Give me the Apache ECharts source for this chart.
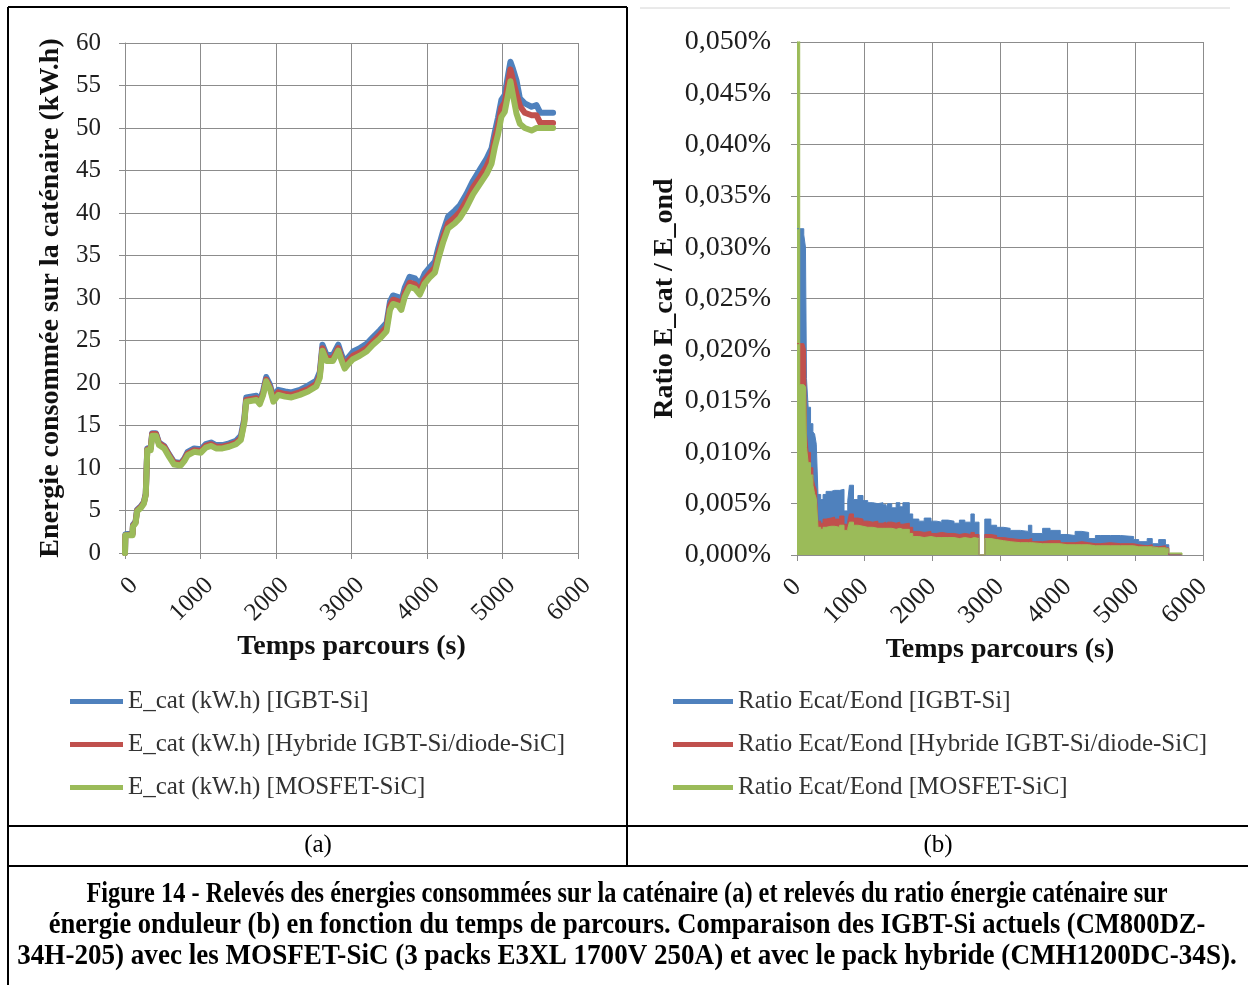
<!DOCTYPE html>
<html>
<head>
<meta charset="utf-8">
<script src="https://cdn.jsdelivr.net/npm/echarts@6/dist/echarts.min.js"></script>
<style>
  html, body { margin: 0; padding: 0; background: #fff; }
  #chart { width: 1248px; height: 985px; }
</style>
</head>
<body>
<div id="chart"></div>
<script>
// (a) Energy drawn from the catenary, kW.h, versus travel time (s)
const energyTime = [0, 5, 100, 105, 140, 160, 210, 250, 275, 295, 340, 360, 410, 450, 520, 585, 650, 740, 785, 830,
  915, 1005, 1070, 1140, 1205, 1290, 1380, 1470, 1535, 1580, 1605, 1740, 1785, 1830, 1870, 1920, 1965, 2030, 2120, 2205,
  2315, 2425, 2535, 2580, 2615, 2670, 2755, 2825, 2870, 2910, 2955, 3020, 3110, 3200, 3285, 3375, 3465, 3510, 3550, 3620,
  3660, 3705, 3770, 3840, 3905, 3970, 4035, 4105, 4150, 4215, 4280, 4370, 4435, 4520, 4610, 4700, 4790, 4855, 4900, 4940,
  4985, 5030, 5075, 5105, 5140, 5185, 5230, 5295, 5385, 5450, 5500, 5670];
const energyIgbt = [0, 2.2, 2.3, 3.3, 3.7, 5.1, 5.5, 6.0, 7.0, 12.3, 12.4, 14.1, 14.1, 13.0, 12.6, 11.6, 10.7, 10.6, 11.1, 11.9,
  12.3, 12.2, 12.8, 13.0, 12.7, 12.7, 12.9, 13.2, 13.8, 15.8, 18.3, 18.5, 18.0, 19.1, 20.7, 19.8, 18.4, 19.2, 19.0, 18.9,
  19.2, 19.7, 20.3, 21.3, 24.5, 23.3, 23.3, 24.5, 23.3, 22.5, 23.0, 23.7, 24.1, 24.6, 25.4, 26.2, 27.1, 29.6, 30.3, 30.1,
  29.7, 31.2, 32.5, 32.3, 31.6, 32.9, 33.6, 34.3, 35.9, 37.9, 39.6, 40.3, 40.9, 42.2, 43.8, 45.1, 46.4, 47.6, 49.6, 51.2,
  53.3, 53.9, 56.3, 57.8, 56.9, 55.6, 53.5, 52.9, 52.5, 52.7, 51.8, 51.8];
const energyHybrid = [0, 2.1, 2.2, 3.2, 3.6, 5.0, 5.4, 5.9, 6.9, 12.2, 12.3, 14.0, 14.0, 12.9, 12.5, 11.5, 10.6, 10.5, 11.0, 11.7,
  12.1, 12.0, 12.6, 12.8, 12.5, 12.5, 12.7, 13.0, 13.5, 15.5, 18.0, 18.2, 17.7, 18.8, 20.4, 19.5, 18.1, 18.9, 18.7, 18.6,
  18.9, 19.3, 19.9, 20.9, 24.1, 22.9, 22.9, 24.1, 22.9, 22.1, 22.6, 23.2, 23.6, 24.1, 24.9, 25.7, 26.6, 29.1, 29.8, 29.6,
  29.1, 30.6, 31.8, 31.6, 30.9, 32.2, 32.9, 33.6, 35.2, 37.2, 38.8, 39.5, 40.1, 41.4, 43.0, 44.2, 45.5, 46.8, 48.8, 50.2,
  52.4, 53.0, 55.3, 56.9, 55.6, 54.0, 52.6, 51.8, 51.5, 51.5, 50.6, 50.6];
const energyMosfet = [0, 2.1, 2.1, 3.1, 3.5, 4.9, 5.3, 5.8, 6.8, 12.1, 12.1, 13.8, 13.8, 12.7, 12.3, 11.3, 10.4, 10.3, 10.8, 11.5,
  11.9, 11.8, 12.4, 12.6, 12.3, 12.3, 12.5, 12.8, 13.3, 15.3, 17.8, 18.0, 17.5, 18.6, 20.2, 19.3, 17.8, 18.6, 18.4, 18.3,
  18.6, 19.0, 19.6, 20.6, 23.8, 22.6, 22.6, 23.8, 22.6, 21.7, 22.2, 22.8, 23.2, 23.7, 24.5, 25.2, 26.1, 28.6, 29.3, 29.1,
  28.6, 30.1, 31.3, 31.1, 30.4, 31.7, 32.4, 33.0, 34.6, 36.6, 38.2, 38.8, 39.4, 40.6, 42.2, 43.4, 44.6, 45.8, 47.8, 49.2,
  51.3, 51.9, 54.0, 55.5, 53.8, 51.7, 50.5, 50.0, 49.7, 50.0, 50.0, 50.0];
const energyNames = ['E_cat (kW.h) [IGBT-Si]', 'E_cat (kW.h) [Hybride IGBT-Si/diode-SiC]', 'E_cat (kW.h) [MOSFET-SiC]'];

// (b) Ratio of catenary energy to inverter energy, in %, versus travel time (s)
const ratioTime = [0, 40, 100, 125, 140, 165, 200, 235, 260, 285, 310, 350, 385, 430, 505, 555, 630, 695, 750, 775,
  835, 900, 975, 1045, 1120, 1195, 1270, 1315, 1340, 1400, 1465, 1520, 1565, 1660, 1710, 1800, 1880, 1980, 2060, 2140,
  2230, 2320, 2400, 2480, 2570, 2620, 2690, 2775, 2865, 2950, 3050, 3150, 3300, 3420, 3470, 3630, 3740, 3890, 3990, 4110,
  4210, 4310, 4410, 4480, 4630, 4780, 4975, 5050, 5175, 5250, 5345, 5445, 5495, 5690];
const ratioIgbt = [0.0318, 0.0318, 0.0312, 0.0300, 0.0172, 0.0144, 0.0128, 0.0120, 0.0118, 0.0108,
  0.0059, 0.0054, 0.0059, 0.0062, 0.0063, 0.0063, 0.0064, 0.0043, 0.0053, 0.0068,
  0.0054, 0.0058, 0.0053, 0.0051, 0.0050, 0.0051, 0.0049, 0.0045, 0.0050, 0.0046,
  0.0051, 0.0047, 0.0051, 0.0040, 0.0035, 0.0033, 0.0036, 0.0033, 0.0032, 0.0034,
  0.0033, 0.0031, 0.0034, 0.0032, 0.0040, 0.0032, 0, 0.0035, 0.0029, 0.0027,
  0.0026, 0.0024, 0.0023, 0.0029, 0.0021, 0.0026, 0.0024, 0.0020, 0.0019, 0.0023,
  0.0022, 0.0016, 0.0019, 0.0019, 0.0019, 0.0018, 0.0015, 0.0013, 0.0016, 0.0011,
  0.0015, 0.0010, 0, 0];
const ratioHybrid = [0.0206, 0.0206, 0.0205, 0.0200, 0.0118, 0.0100, 0.0085, 0.0076, 0.0068, 0.0064,
  0.0033, 0.0031, 0.0035, 0.0036, 0.0037, 0.0035, 0.0038, 0.0030, 0.0033, 0.0040,
  0.0036, 0.0035, 0.0033, 0.0032, 0.0033, 0.0031, 0.0032, 0.0030, 0.0032, 0.0031,
  0.0032, 0.0030, 0.0031, 0.0027, 0.0023, 0.0022, 0.0023, 0.0021, 0.0022, 0.0021,
  0.0021, 0.0020, 0.0021, 0.0020, 0.0022, 0.0020, 0, 0.0020, 0.0019, 0.0017,
  0.0016, 0.0015, 0.0015, 0.0016, 0.0013, 0.0014, 0.0014, 0.0012, 0.0012, 0.0013,
  0.0012, 0.0011, 0.0011, 0.0012, 0.0011, 0.0011, 0.0010, 0.0009, 0.0010, 0.0008,
  0.0009, 0.0007, 0, 0];
const ratioMosfet = [0.0600, 0.0166, 0.0166, 0.0164, 0.0105, 0.0090, 0.0078, 0.0068, 0.0060, 0.0055,
  0.0027, 0.0025, 0.0027, 0.0028, 0.0028, 0.0027, 0.0029, 0.0024, 0.0026, 0.0032,
  0.0029, 0.0028, 0.0027, 0.0027, 0.0026, 0.0026, 0.0026, 0.0025, 0.0026, 0.0025,
  0.0026, 0.0025, 0.0025, 0.0021, 0.0018, 0.0017, 0.0018, 0.0017, 0.0017, 0.0017,
  0.0017, 0.0016, 0.0017, 0.0016, 0.0017, 0.0016, 0, 0.0016, 0.0015, 0.0014,
  0.0013, 0.0012, 0.0012, 0.0012, 0.0011, 0.0011, 0.0011, 0.0010, 0.0010, 0.0010,
  0.0010, 0.0009, 0.0009, 0.0009, 0.0009, 0.0009, 0.0008, 0.0008, 0.0008, 0.0007,
  0.0007, 0.0006, 0.0002, 0];
const ratioNames = ['Ratio Ecat/Eond [IGBT-Si]', 'Ratio Ecat/Eond [Hybride IGBT-Si/diode-SiC]', 'Ratio Ecat/Eond [MOSFET-SiC]'];

const panelLabels = ['(a)', '(b)'];
const captionLines = [
  'Figure 14 - Relevés des énergies consommées sur la caténaire (a) et relevés du ratio énergie caténaire sur',
  'énergie onduleur (b) en fonction du temps de parcours. Comparaison des IGBT-Si actuels (CM800DZ-',
  '34H-205) avec les MOSFET-SiC (3 packs E3XL 1700V 250A) et avec le pack hybride (CMH1200DC-34S).'
];
// the caption is set in a tall, narrow bold face; each line is stretched to its measure
const captionStretch = [1.015, 1.105, 1.128];

const COLORS = ['#4F81BD', '#C0504D', '#9BBB59'];
const FONT = '"Liberation Serif", "Times New Roman", serif';
const GRID_GREY = '#8c8c8c';

const pairs = (xs, ys) => xs.map((x, i) => [x, ys[i]]);
const pct = v => v.toFixed(3).replace('.', ',') + '%';

function xAxisFor(gridIndex, fontSize, margin, vAlign) {
  return {
    gridIndex, type: 'value', min: 0, max: 6000, interval: 1000,
    name: 'Temps parcours (s)', nameLocation: 'middle', nameGap: 80,
    nameTextStyle: { fontFamily: FONT, fontWeight: 'bold', fontSize: 28, color: '#111' },
    axisLine: { show: true, lineStyle: { color: GRID_GREY, width: 1 } },
    axisTick: { show: true, length: 6, inside: false, lineStyle: { color: GRID_GREY } },
    axisLabel: {
      rotate: 45, fontFamily: FONT, fontSize, color: '#1e1e1e', margin,
      verticalAlign: vAlign, formatter: v => String(v)
    },
    splitLine: { show: true, lineStyle: { color: GRID_GREY, width: 1 } }
  };
}

const chart = echarts.init(document.getElementById('chart'), null, { renderer: 'canvas' });

const energySeries = energyNames.map((name, k) => ({
  type: 'line', name, xAxisIndex: 0, yAxisIndex: 0,
  data: pairs(energyTime, [energyIgbt, energyHybrid, energyMosfet][k]),
  symbol: 'none', showSymbol: false,
  lineStyle: { width: 6, color: COLORS[k], cap: 'round', join: 'round' },
  itemStyle: { color: COLORS[k] }
}));

const ratioSeries = ratioNames.map((name, k) => ({
  type: 'line', name, xAxisIndex: 1, yAxisIndex: 1, step: 'end',
  data: pairs(ratioTime, [ratioIgbt, ratioHybrid, ratioMosfet][k]),
  symbol: 'none', showSymbol: false,
  lineStyle: { width: 1, color: COLORS[k] },
  areaStyle: { color: COLORS[k], opacity: 1 },
  itemStyle: { color: COLORS[k] }
}));

const frame = (x1, y1, x2, y2, stroke, w) => ({
  type: 'line', silent: true, z: 100,
  shape: { x1, y1, x2, y2 }, style: { stroke, lineWidth: w }
});

const textEl = (x, y, text, size, weight, sx, sy) => ({
  type: 'text', silent: true, x, y, scaleX: sx || 1, scaleY: sy || 1,
  style: { text, fontFamily: FONT, fontSize: size, fontWeight: weight, fill: '#000', align: 'center', verticalAlign: 'middle' }
});

chart.setOption({
  animation: false,
  backgroundColor: '#fff',
  textStyle: { fontFamily: FONT },
  grid: [
    { left: 125, top: 43, width: 453, height: 510 },
    { left: 797, top: 42, width: 406, height: 513 }
  ],
  xAxis: [xAxisFor(0, 25, 20, 'top'), xAxisFor(1, 26, 28, 'middle')],
  yAxis: [
    {
      gridIndex: 0, type: 'value', min: 0, max: 60, interval: 5,
      name: 'Energie consommée sur la caténaire (kW.h)', nameLocation: 'middle', nameGap: 60,
      nameTextStyle: { fontFamily: FONT, fontWeight: 'bold', fontSize: 28, color: '#111' },
      axisLine: { show: true, lineStyle: { color: GRID_GREY } },
      axisTick: { show: true, length: 6, lineStyle: { color: GRID_GREY } },
      axisLabel: { fontFamily: FONT, fontSize: 25, color: '#1e1e1e', margin: 24 },
      splitLine: { show: true, lineStyle: { color: GRID_GREY, width: 1 } }
    },
    {
      gridIndex: 1, type: 'value', min: 0, max: 0.05, interval: 0.005,
      name: 'Ratio E_cat / E_ond', nameLocation: 'middle', nameGap: 118,
      nameTextStyle: { fontFamily: FONT, fontWeight: 'bold', fontSize: 28, color: '#111' },
      axisLine: { show: true, lineStyle: { color: GRID_GREY } },
      axisTick: { show: true, length: 6, lineStyle: { color: GRID_GREY } },
      axisLabel: { fontFamily: FONT, fontSize: 28, color: '#1e1e1e', margin: 26, formatter: pct },
      splitLine: { show: true, lineStyle: { color: GRID_GREY, width: 1 } }
    }
  ],
  legend: [
    {
      data: energyNames, orient: 'vertical', left: 65, top: 684,
      icon: 'rect', itemWidth: 53, itemHeight: 5, itemGap: 18,
      textStyle: { fontFamily: FONT, fontSize: 25, color: '#333' }
    },
    {
      data: ratioNames, orient: 'vertical', left: 668, top: 684,
      icon: 'rect', itemWidth: 60, itemHeight: 5, itemGap: 18,
      textStyle: { fontFamily: FONT, fontSize: 25, color: '#333' }
    }
  ],
  series: energySeries.concat(ratioSeries),
  graphic: [
    frame(8, 7, 8, 985, '#000', 2),
    frame(8, 7, 627, 7, '#000', 2),
    frame(640, 8, 1230, 8, '#d4d4d4', 1),
    frame(627, 7, 627, 866, '#000', 2),
    frame(8, 826, 1248, 826, '#000', 2),
    frame(8, 866, 1248, 866, '#000', 2),
    textEl(318, 845, panelLabels[0], 25, 'normal'),
    textEl(938, 845, panelLabels[1], 25, 'normal'),
    textEl(627, 895, captionLines[0], 24, 'bold', captionStretch[0], 1.2),
    textEl(627, 926, captionLines[1], 24, 'bold', captionStretch[1], 1.2),
    textEl(627, 957, captionLines[2], 24, 'bold', captionStretch[2], 1.2)
  ]
});
</script>
</body>
</html>
